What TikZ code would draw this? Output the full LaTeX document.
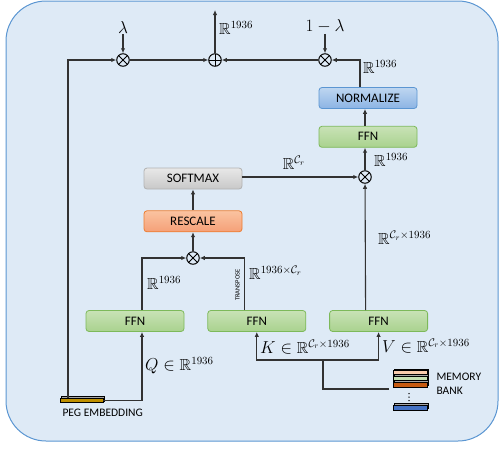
\documentclass[tikz,border=0pt]{standalone}
\usepackage{fontspec}
\setmainfont{Carlito}
\usepackage{amsmath}
\usepackage{amssymb}
\usepackage{xcolor}
\usetikzlibrary{arrows.meta,positioning,shadows}
\definecolor{bgfill}{RGB}{222,234,246}
\definecolor{bgborder}{RGB}{91,150,210}
\definecolor{linegray}{RGB}{50,50,50}
\definecolor{ffntop}{RGB}{200,226,182}
\definecolor{ffnbot}{RGB}{169,210,142}
\definecolor{ffnborder}{RGB}{125,185,90}
\definecolor{normtop}{RGB}{190,214,240}
\definecolor{normbot}{RGB}{140,180,228}
\definecolor{softtop}{RGB}{232,232,232}
\definecolor{softbot}{RGB}{200,200,200}
\definecolor{resctop}{RGB}{250,195,160}
\definecolor{rescbot}{RGB}{245,160,120}
\definecolor{rescborder}{RGB}{237,125,49}
\definecolor{pegyellow}{RGB}{191,144,0}
\definecolor{peach}{RGB}{248,203,173}
\definecolor{lightgreen}{RGB}{197,224,180}
\definecolor{darkorange}{RGB}{197,90,17}
\definecolor{barblue}{RGB}{68,114,196}

\begin{document}
\begin{tikzpicture}[x=1pt, y=-1pt, font=\fontsize{11.5}{14}\selectfont,
box/.style={draw, rounded corners=3pt, minimum width=98pt, minimum height=21pt, align=center, line width=0.8pt, font=\fontsize{13}{15}\selectfont},
ffn/.style={box, draw=ffnborder, top color=ffntop, bottom color=ffnbot},
norm/.style={box, draw=bgborder, top color=normtop, bottom color=normbot},
soft/.style={box, draw=gray!60, top color=softtop, bottom color=softbot},
resc/.style={box, draw=rescborder, top color=resctop, bottom color=rescbot},
arrow/.style={-{Latex[length=5pt,width=4.5pt]}, line width=1.1pt, draw=linegray},
line/.style={line width=1.1pt, draw=linegray},
mul/.style={circle, draw=black, line width=1pt, minimum size=12.5pt, inner sep=0pt,
  path picture={\draw[line width=1pt] (path picture bounding box.north west) -- (path picture bounding box.south east)
  (path picture bounding box.north east) -- (path picture bounding box.south west);}},
add/.style={circle, draw=black, line width=1pt, minimum size=12.5pt, inner sep=0pt,
  path picture={\draw[line width=1pt] (path picture bounding box.north) -- (path picture bounding box.south)
  (path picture bounding box.east) -- (path picture bounding box.west);}},
math/.style={font=\fontsize{16}{18}\selectfont, inner sep=1pt},
bar/.style={draw=black, line width=0.6pt, minimum width=34pt, minimum height=5pt, inner sep=0pt,
  copy shadow={shadow xshift=1.2pt, shadow yshift=1.5pt, fill=gray!70}}]
\useasboundingbox (0,0) rectangle (500,448);
\draw[draw=bgborder, fill=bgfill, line width=1pt, rounded corners=40pt] (6,1) rectangle (498,441);
% operators
\node[mul] (mull) at (123,60) {};
\node[add] (sum) at (215,60) {};
\node[mul] (mulr) at (325,60) {};
\node[mul] (mulv) at (365,177) {};
\node[mul] (mulq) at (193,258) {};
\coordinate (out) at (215,10);
% boxes
\node[norm] (norm) at (368,98) {NORMALIZE};
\node[ffn, below=17pt of norm] (ffnt) {FFN};
\node[soft] (soft) at (193,178.5) {SOFTMAX};
\node[resc, below=21pt of soft] (resc) {RESCALE};
\node[ffn] (ffnq) at (135,321) {FFN};
\node[ffn, right=23pt of ffnq] (ffnk) {FFN};
\node[ffn, right=23pt of ffnk] (ffnv) {FFN};
% inputs
\node[bar, fill=pegyellow, minimum width=43pt, minimum height=4.5pt] (peg) at (81.5,400.5) {};
\node[anchor=west] (pegtxt) at (59,413) {PEG EMBEDDING};
\node[bar, fill=peach] (mem1) at (410,373) {};
\node[bar, fill=lightgreen] (mem2) at (410,378.5) {};
\node[bar, fill=darkorange] (mem3) at (410,384.5) {};
\foreach \y in {393.5,397,400.5} \fill[black] (409,\y) circle (0.75pt);
\node[bar, fill=barblue] (memn) at (410,407.5) {};
\node[anchor=west, align=left] (memtxt) at (433,384) {MEMORY\\BANK};
\coordinate (split) at (323,360);
\coordinate (bank) at (389,389);
% labels
\node[math] (lam) at (123,27) {$\lambda$};
\node[math] (oneml) at (325,26) {$1-\lambda$};
\node[math, anchor=west] (rout) at (218,28) {$\mathbb{R}^{1936}$};
\node[math, anchor=west] (rnorm) at (362,67) {$\mathbb{R}^{1936}$};
\node[math, anchor=west] (rffnt) at (373,160) {$\mathbb{R}^{1936}$};
\node[math] (rsoft) at (294,163) {$\mathbb{R}^{\mathcal{C}_r}$};
\node[math, anchor=west] (rval) at (377,238) {$\mathbb{R}^{\mathcal{C}_r\times 1936}$};
\node[math, anchor=west] (rquery) at (146,283) {$\mathbb{R}^{1936}$};
\node[math, anchor=west] (rkey) at (248,273) {$\mathbb{R}^{1936\times\mathcal{C}_r}$};
\node[font=\fontsize{6.5}{7}\selectfont, rotate=90, inner sep=0pt] (transp) at (237.5,285) {TRANSPOSE};
\node[math, anchor=west] (qin) at (144,366) {$Q\in\mathbb{R}^{1936}$};
\node[math, anchor=west] (kin) at (259,347) {$K\in\mathbb{R}^{\mathcal{C}_r\times 1936}$};
\node[math, anchor=west] (vin) at (381,346) {$V\in\mathbb{R}^{\mathcal{C}_r\times 1936}$};
% connectors
\draw[arrow] (lam) -- (mull);
\draw[arrow] (oneml) -- (mulr);
\draw[arrow] ([xshift=-13.5pt]peg.north) |- (mull);
\draw[arrow] (mull) -- (sum);
\draw[arrow] (mulr) -- (sum);
\draw[arrow] (sum) -- (out);
\draw[arrow] ([xshift=-8pt]norm.north) |- (mulr);
\draw[arrow] (mulv |- ffnt.north) -- (mulv |- norm.south);
\draw[arrow] (mulv) -- (mulv |- ffnt.south);
\draw[arrow] (soft.east |- mulv) -- (mulv);
\draw[arrow] (resc) -- (soft);
\draw[arrow] (mulq) -- (resc);
\draw[arrow] ([xshift=7pt]ffnq.north) |- (mulq);
\draw[arrow] ([xshift=-12pt]ffnk.north) |- (mulq);
\draw[arrow] ([xshift=-13pt]ffnv.north) -- (mulv);
\draw[arrow] (peg.east) -| ([xshift=7pt]ffnq.south);
\draw[line] (bank) -| (split);
\draw[arrow] (split) -| (ffnk.south);
\draw[arrow] (split) -| (ffnv.south);
\end{tikzpicture}
\end{document}
